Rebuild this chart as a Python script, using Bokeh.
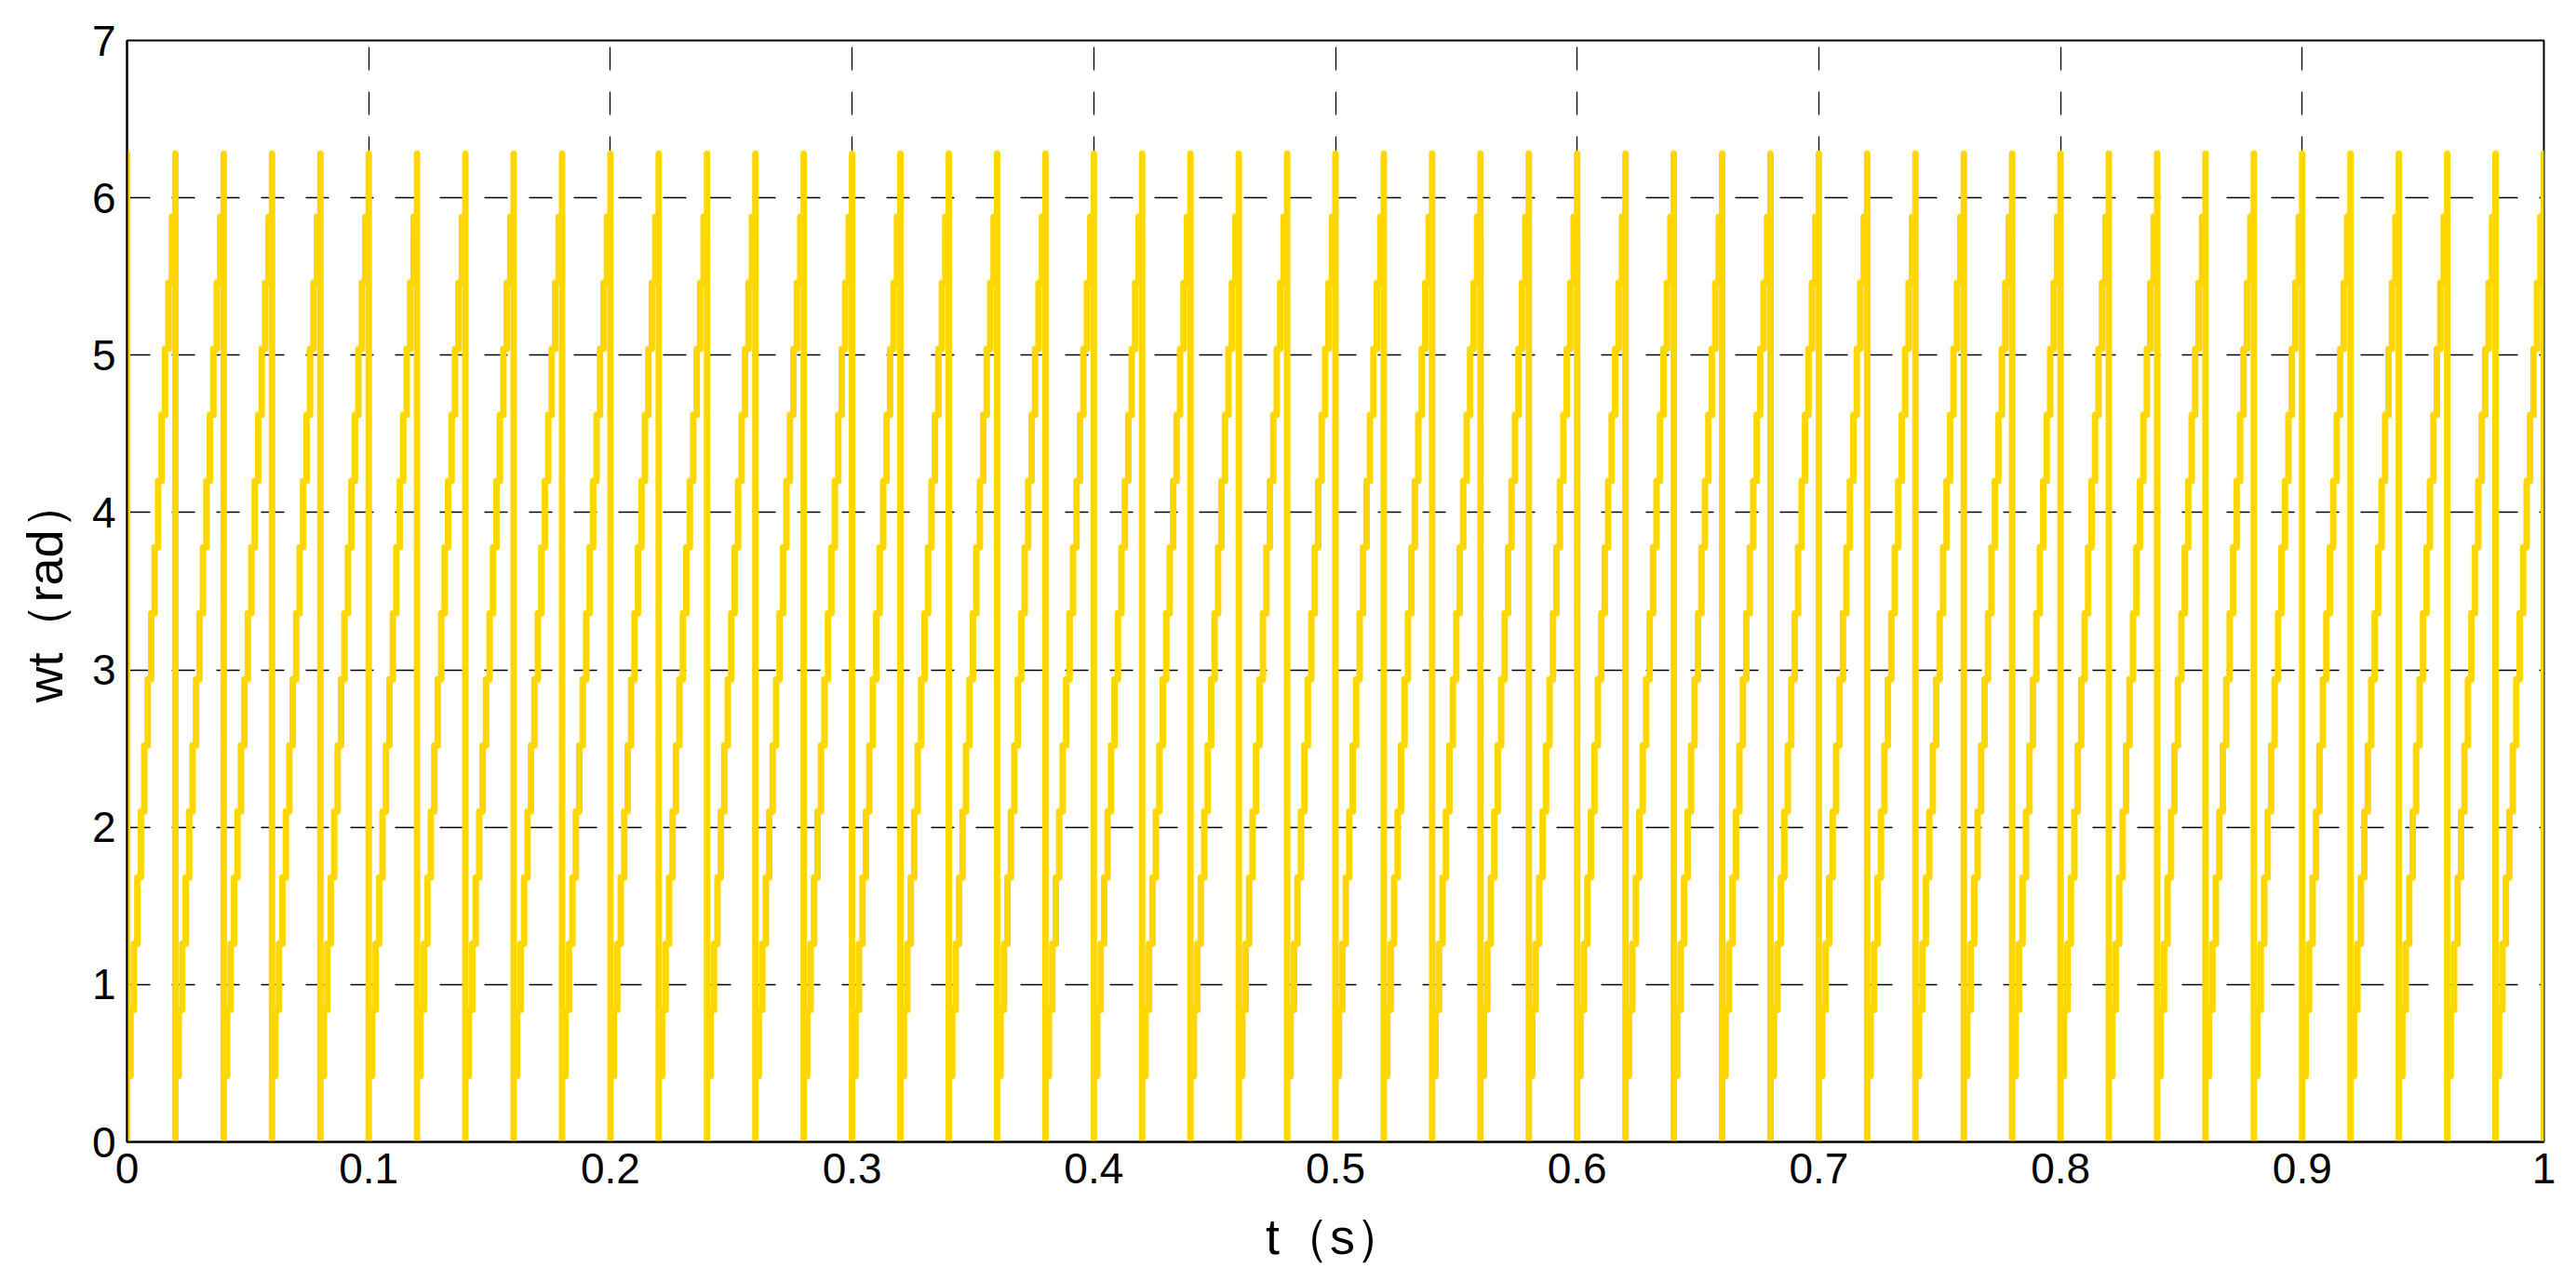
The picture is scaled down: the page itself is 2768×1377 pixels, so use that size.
from bokeh.plotting import figure
from bokeh.models import Range1d, FixedTicker, ColumnDataSource
from bokeh.embed import file_html
from bokeh.resources import INLINE

# ---- data ----
t_start = 0.0          # s
t_end = 1.0            # s
cycle_period = 0.02    # s (50 Hz, 50 ramps over 1 s)
wrap_value = 6.28      # rad, peak before each reset
# held levels of one ramp (rad), staircase
step_levels = [0.42, 0.84, 1.26, 1.68, 2.10, 2.52, 2.94, 3.36, 3.78,
               4.20, 4.62, 5.04, 5.46, 5.88]

x_ticks = [0, 0.1, 0.2, 0.3, 0.4, 0.5, 0.6, 0.7, 0.8, 0.9, 1]
x_tick_labels = ["0", "0.1", "0.2", "0.3", "0.4", "0.5", "0.6", "0.7", "0.8", "0.9", "1"]
y_ticks = [0, 1, 2, 3, 4, 5, 6, 7]
y_tick_labels = ["0", "1", "2", "3", "4", "5", "6", "7"]

x_label = "t\uff08s\uff09"
y_label = "wt\uff08rad\uff09"

# ---- build the staircase sawtooth from the values above ----
n_cycles = int(round((t_end - t_start) / cycle_period))
hold = cycle_period / len(step_levels)
ts = [t_start]
ys = [wrap_value]
for c in range(n_cycles):
    t0 = t_start + c * cycle_period
    ts.append(t0)
    ys.append(0.0)
    for j, lv in enumerate(step_levels):
        ts += [t0 + j * hold, t0 + (j + 1) * hold]
        ys += [lv, lv]
    t1 = t0 + cycle_period
    ts.append(t1)
    ys.append(wrap_value)
ts.append(t_end)
ys.append(0.0)

src = ColumnDataSource(data=dict(t=ts, wt=ys))

FONT = "Liberation Sans"

p = figure(width=2752, height=1361,
           x_range=Range1d(0, 1), y_range=Range1d(0, 7),
           output_backend="svg", toolbar_location=None,
           min_border_left=136, min_border_right=19,
           min_border_top=43, min_border_bottom=128,
           background_fill_color="white", border_fill_color="white")

p.line("t", "wt", source=src, line_color="#FFD700", line_width=7,
       line_join="round", line_cap="round")

p.outline_line_color = "black"
p.outline_line_width = 2
p.outline_line_alpha = 1.0

for ax in (p.xaxis[0], p.yaxis[0]):
    ax.axis_line_color = "black"
    ax.axis_line_width = 2
    ax.major_tick_in = 0
    ax.major_tick_out = 0
    ax.minor_tick_in = 0
    ax.minor_tick_out = 0
    ax.major_label_text_font = FONT
    ax.major_label_text_font_size = "46px"
    ax.major_label_text_color = "black"
    ax.axis_label_text_font = FONT
    ax.axis_label_text_font_size = "54px"
    ax.axis_label_text_font_style = "normal"
    ax.axis_label_text_color = "black"

p.xaxis.ticker = FixedTicker(ticks=x_ticks)
p.xaxis.major_label_overrides = {k: v for k, v in zip(x_ticks, x_tick_labels)}
p.yaxis.ticker = FixedTicker(ticks=y_ticks)
p.yaxis.major_label_overrides = {k: v for k, v in zip(y_ticks, y_tick_labels)}
p.xaxis.major_label_standoff = 12
p.yaxis.major_label_standoff = 12
p.xaxis.axis_label = x_label
p.yaxis.axis_label = y_label
p.xaxis.axis_label_standoff = 24
p.yaxis.axis_label_standoff = 18

for g in (p.xgrid[0], p.ygrid[0]):
    g.grid_line_color = "black"
    g.grid_line_width = 1.3
    g.grid_line_dash = "25 23"
    g.grid_line_alpha = 1.0

open("out.html", "w").write(file_html(p, INLINE))
